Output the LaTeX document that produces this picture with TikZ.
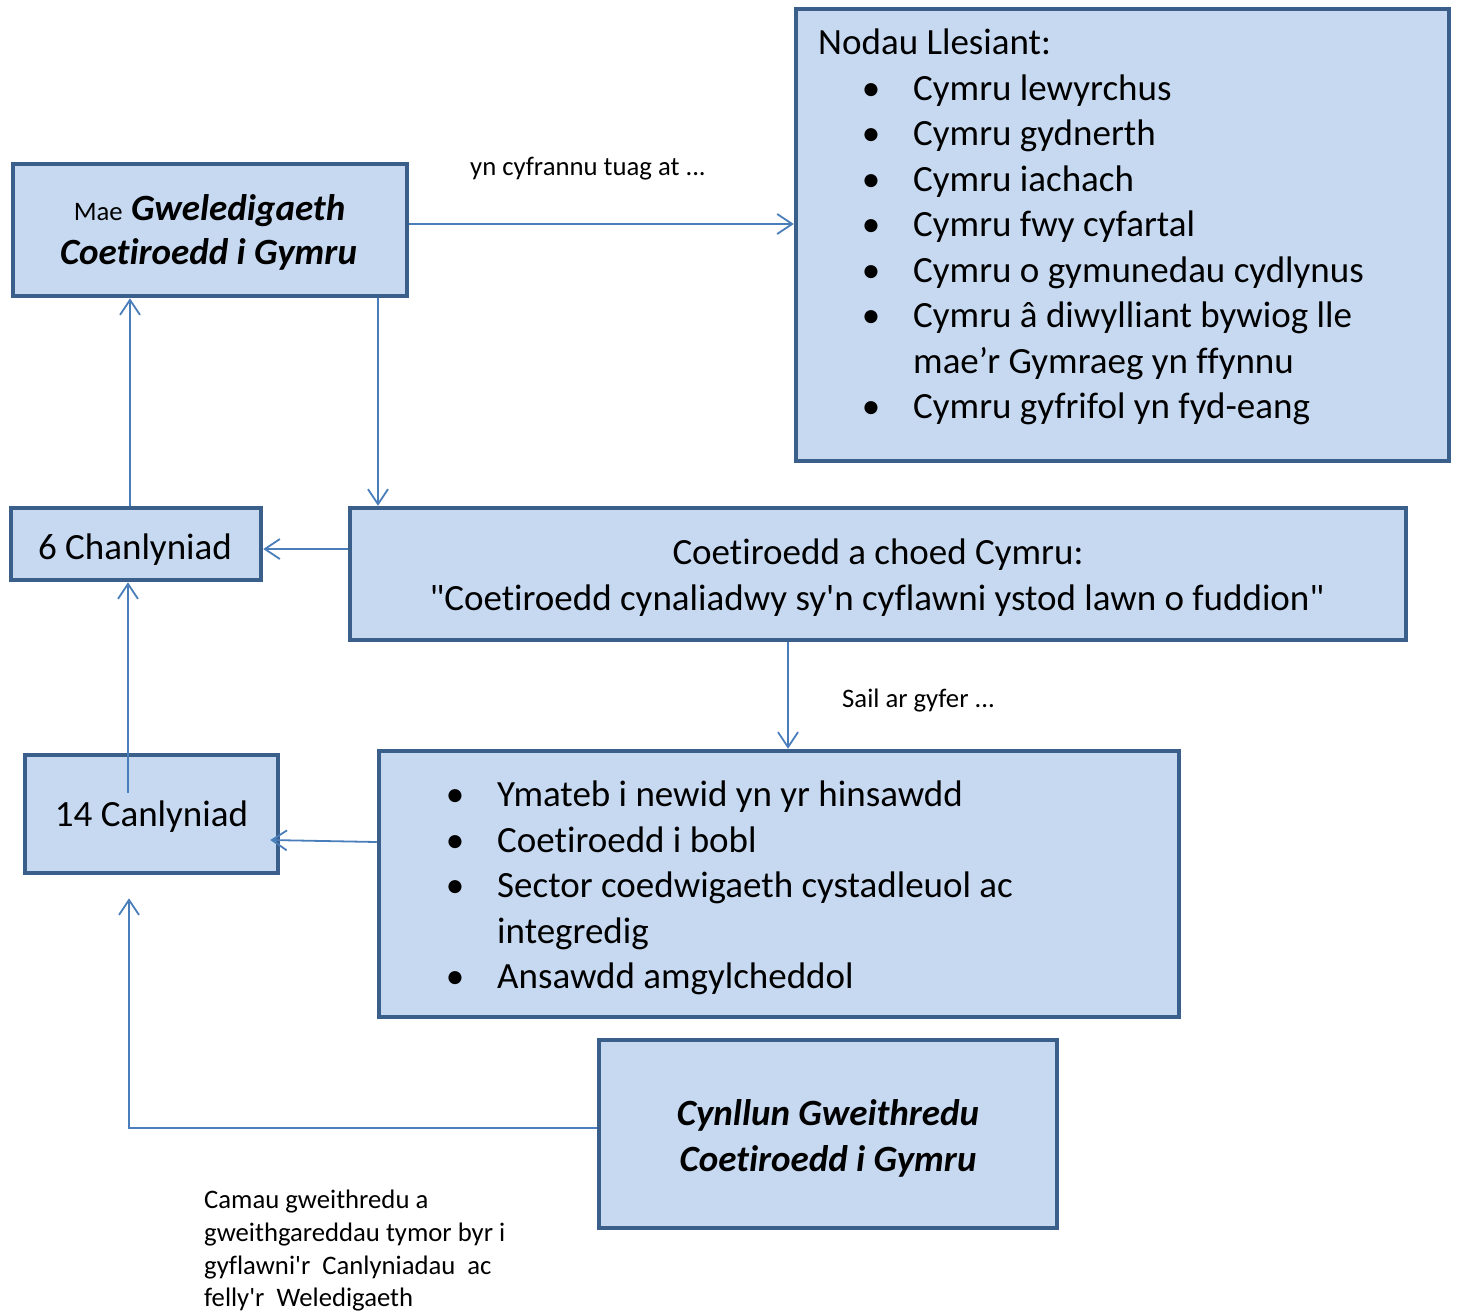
\documentclass[tikz,border=0pt]{standalone}
\usepackage{fontspec}
\newfontfamily\cf{Carlito}[Ligatures={NoCommon}]
\usetikzlibrary{arrows.meta}
\definecolor{boxfill}{HTML}{C6D9F1}
\definecolor{boxline}{HTML}{3A5F8B}
\definecolor{conncol}{HTML}{4A7EBB}
\newcommand\bigf{\cf\fontsize{37}{45.6}\selectfont}
\newcommand\smallf{\cf\fontsize{26.7}{32.7}\selectfont}
\newcommand\bif{\cf\bfseries\itshape\fontsize{37}{45.6}\selectfont}
\tikzset{
  box/.style={draw=boxline, fill=boxfill, line width=4.5pt, rectangle, inner sep=0pt},
  conn/.style={draw=conncol, line width=1.8pt, -{Straight Barb[length=15pt,width=20pt,line width=1.8pt]}},
  big/.style={inner sep=0pt, font=\bigf},
  bigbi/.style={inner sep=0pt, font=\bif},
  small/.style={inner sep=0pt, font=\smallf},
}
\begin{document}
\begin{tikzpicture}[x=1pt,y=-1pt]
\useasboundingbox (0,0) rectangle (1461,1310);
% boxes
\node[box, minimum width=394pt, minimum height=132pt] (gwel) at (210,230) {};
\node[box, minimum width=653pt, minimum height=452pt] (nodau) at (1122.5,235) {};
\node[box, minimum width=250pt, minimum height=72pt] (chan6) at (136,544) {};
\node[box, minimum width=1056pt, minimum height=132pt] (coed) at (878,574) {};
\node[box, minimum width=253pt, minimum height=118pt] (can14) at (151.5,814) {};
\node[box, minimum width=800pt, minimum height=266pt] (amcan) at (779,884) {};
\node[box, minimum width=458pt, minimum height=188pt] (cynllun) at (828,1134) {};

% texts in gwel
\node[big, anchor=base] (gwelA) at (209.5,220.5) {{\smallf Mae} {\bif Gweledigaeth}};
\node[bigbi, anchor=base] (gwelB) at (208.5,264) {Coetiroedd i Gymru};

% nodau list
\node[big, anchor=base west] (nodauT) at (818,54) {Nodau Llesiant:};
\foreach \t/\b [count=\i from 0] in {Cymru lewyrchus/1, Cymru gydnerth/1, Cymru iachach/1, Cymru fwy cyfartal/1, Cymru o gymunedau cydlynus/1, Cymru â diwylliant bywiog lle/1, mae’r Gymraeg yn ffynnu/0, Cymru gyfrifol yn fyd-eang/1}{
  \node[big, anchor=base west] (nl\i) at (913,100+45.5*\i) {\t};
  \ifnum\b=1 \node[big, anchor=base] (nb\i) at (871,100+45.5*\i) {•};\fi
}

% coed
\node[big, anchor=base] (coedA) at (878,564.5) {Coetiroedd a choed Cymru:};
\node[big, anchor=base] (coedB) at (877,610.5) {"Coetiroedd cynaliadwy sy'n cyflawni ystod lawn o fuddion"};

% amcan list
\foreach \t/\b [count=\i from 0] in {Ymateb i newid yn yr hinsawdd/1, Coetiroedd i bobl/1, Sector coedwigaeth cystadleuol ac/1, integredig/0, Ansawdd amgylcheddol/1}{
  \node[big, anchor=base west] (al\i) at (497,806.5+45.5*\i) {\t};
  \ifnum\b=1 \node[big, anchor=base] (ab\i) at (455,806.5+45.5*\i) {•};\fi
}

% cynllun
\node[bigbi, anchor=base] (cynA) at (828,1125) {Cynllun Gweithredu};
\node[bigbi, anchor=base] (cynB) at (828,1171) {Coetiroedd i Gymru};

% small boxes
\node[big, anchor=base] (chan6T) at (135,559) {6 Chanlyniad};
\node[big, anchor=base] (can14T) at (151.5,826) {14 Canlyniad};

% labels
\node[small, anchor=base west] (lab1) at (470,175) {yn cyfrannu tuag at ...};
\node[small, anchor=base west] (lab2) at (842,707) {Sail ar gyfer ...};
\node[small, anchor=base west] (lab3a) at (204,1208) {Camau gweithredu a};
\node[small, anchor=base west] (lab3b) at (204,1241) {gweithgareddau tymor byr i};
\node[small, anchor=base west] (lab3c) at (204,1274) {gyflawni'r\ \ Canlyniadau\ \ ac};
\node[small, anchor=base west] (lab3d) at (204,1306) {felly'r\ \ Weledigaeth};

% connectors
\draw[conn] ([yshift=6pt]gwel.east) -- ([yshift=11pt]nodau.west);
\draw[conn] ([xshift=168pt]gwel.south) -- ([xshift=-500pt]coed.north);
\draw[conn] ([yshift=25pt]coed.west) -- ([yshift=-5pt]chan6.east);
\draw[conn] ([xshift=-6pt]chan6.north) -- ([xshift=-80pt]gwel.south);
\draw[conn] ([xshift=-23.5pt,yshift=21pt]can14.center) -- ([xshift=-8pt]chan6.south);
\draw[conn] ([xshift=-90pt]coed.south) -- ([xshift=9pt]amcan.north);
\draw[conn] ([yshift=42pt]amcan.west) -- ([xshift=-10pt,yshift=-26pt]can14.east);
\draw[conn] ([yshift=6pt]cynllun.west) -| ([xshift=-22.5pt,yshift=-23pt]can14.south);
\end{tikzpicture}
\end{document}
